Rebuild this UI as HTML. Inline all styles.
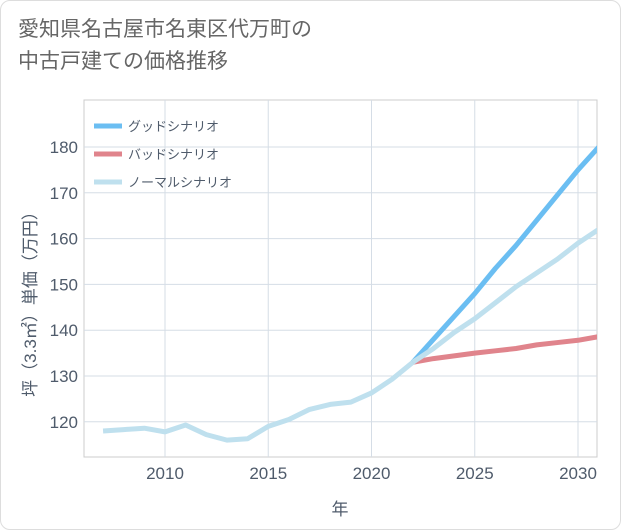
<!DOCTYPE html>
<html><head><meta charset="utf-8">
<style>
html,body{margin:0;padding:0;background:#fff;}
body{width:621px;height:530px;overflow:hidden;font-family:"Liberation Sans","Noto Sans CJK JP",sans-serif;}
.card{position:absolute;left:0;top:0;width:619px;height:528px;border:1px solid #ddd;border-radius:10px;background:#fff;}
.title{position:absolute;left:18px;top:14px;font-size:21px;line-height:32px;color:#666;}
</style></head><body>
<div class="card"></div>
<div class="title">愛知県名古屋市名東区代万町の<br>中古戸建ての価格推移</div>
<svg id="chart" width="621" height="530" style="position:absolute;left:0;top:0"></svg>
<script>
const years=[2007,2008,2009,2010,2011,2012,2013,2014,2015,2016,2017,2018,2019,2020,2021,2022];
const hist=[118,118.3,118.6,117.8,119.3,117.2,116,116.3,119,120.5,122.7,123.8,124.3,126.3,129.3,133];
const fYears=[2022,2023,2024,2025,2026,2027,2028,2029,2030,2031];
const good=[133,138,143,148,153.5,158.5,164,169.5,175,180];
const normal=[133,136,139.5,142.5,146,149.5,152.5,155.5,159,162];
const bad=[133,133.8,134.4,135,135.5,136,136.8,137.3,137.8,138.6];
const xTicks=[2010,2015,2020,2025,2030];
const yTicks=[120,130,140,150,160,170,180];
const NS="http://www.w3.org/2000/svg";
const svg=document.getElementById('chart');
const L=84,R=597,T=100,B=457;
const TXT='#4f5b6b';
const x=v=>165+(v-2010)*20.65;
const y=v=>376-(v-130)*4.58;
function el(t,a,p){const e=document.createElementNS(NS,t);for(const k in a)e.setAttribute(k,a[k]);(p||svg).appendChild(e);return e;}
const bg=el('rect',{x:L,y:T,width:R-L,height:B-T,fill:'#fff',stroke:'#ccc'});


xTicks.forEach(t=>{
  const g=el('line',{x1:x(t),x2:x(t),y1:T,y2:B,stroke:'#d5dde6'});
  
  
  const tx=el('text',{x:x(t),y:479,'text-anchor':'middle','font-size':17,fill:TXT});tx.textContent=t;
  
  
});
yTicks.forEach(t=>{
  const g=el('line',{x1:L,x2:R,y1:y(t),y2:y(t),stroke:'#d5dde6'});
  
  
  const tx=el('text',{x:78,y:y(t)+6,'text-anchor':'end','font-size':17,fill:TXT});tx.textContent=t;
  
  
});
const clip=el('clipPath',{id:'c'});el('rect',{x:L,y:T,width:R-L,height:B-T},clip);
function line(xs,vs,color,name){
  const p=el('polyline',{points:xs.map((v,i)=>x(v)+','+y(vs[i])).join(' '),fill:'none',stroke:color,'stroke-width':5,'stroke-linejoin':'round','clip-path':'url(#c)'});
  
  
}
line(fYears,bad,'#e0848c','bad-scenario-line');
line(fYears,good,'#6bbef2','good-scenario-line');
line(fYears,normal,'#bfe0ee','normal-scenario-line');
line(years,hist,'#bfe0ee','historical-line');
const leg=[['グッドシナリオ','#6bbef2'],['バッドシナリオ','#e0848c'],['ノーマルシナリオ','#bfe0ee']];
leg.forEach((l,i)=>{
  const yy=126+i*28;
  const ln=el('line',{x1:94,x2:122,y1:yy,y2:yy,stroke:l[1],'stroke-width':5});
  
  
  const t=el('text',{x:128,y:yy+5,'font-size':13,fill:TXT});t.textContent=l[0];
  
  
});
const xt=el('text',{x:340,y:515,'text-anchor':'middle','font-size':17,fill:TXT});xt.textContent='年';


const yt=el('text',{x:0,y:0,'text-anchor':'middle','font-size':17,fill:TXT,transform:'translate(36,300) rotate(-90)'});yt.textContent='坪（3.3㎡）単価（万円）';


</script>
</body></html>
